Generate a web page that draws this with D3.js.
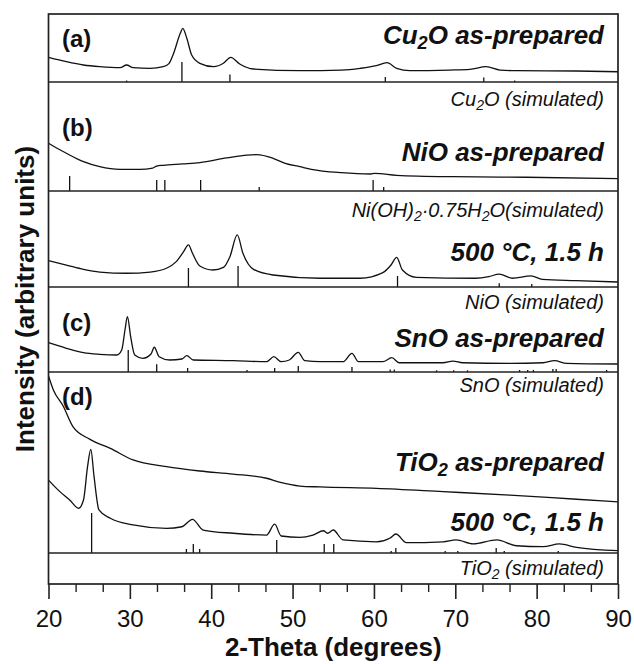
<!DOCTYPE html>
<html>
<head>
<meta charset="utf-8">
<script src="https://cdn.jsdelivr.net/npm/d3@7"></script>
<style>
  body { margin: 0; background: #fff; }
  svg { display: block; }
  text { font-family: "Liberation Sans", Arial, Helvetica, sans-serif; fill: #111; }
  .frame { fill: none; stroke: #222; stroke-width: 1.7; }
  .divider { stroke: #222; stroke-width: 1.4; }
  .curve { fill: none; stroke: #111; stroke-width: 1.3; }
  .stick { stroke: #111; stroke-width: 1.3; }
  .panel-tag { font-weight: bold; font-size: 24px; }
  .sample { font-weight: bold; font-style: italic; font-size: 26px; }
  .sim { font-style: italic; font-size: 20px; }
</style>
</head>
<body>
<svg width="634" height="664"></svg>
<script>
// 2-theta (deg) vs intensity, in % of each panel's height
var cu2oPrepared = [[20.0,36.3],[22.2,29.9],[24.3,25.0],[26.3,22.5],[28.8,21.0],[29.6,25.0],[30.4,21.0],[32.5,20.1],[34.1,22.5],[34.8,27.0],[35.3,39.7],[36.2,71.6],[36.5,79.0],[37.0,64.3],[37.6,39.7],[38.6,27.5],[40.3,22.5],[41.5,27.5],[42.4,36.3],[43.5,26.5],[45.2,19.1],[50.9,16.6],[56.0,17.6],[58.3,20.1],[60.3,24.0],[61.6,28.4],[62.8,20.1],[64.4,16.6],[69.3,17.6],[71.8,18.7],[73.8,22.5],[75.5,17.6],[77.5,16.6],[84.9,16.2],[90.0,15.1]];
var cu2oSticks = [[29.6,2.2],[36.4,29.4],[42.3,10.9],[61.4,7.4],[73.5,6.5],[77.3,2.2]];

var nioPrepared = [[20.0,43.8],[21.0,39.4],[22.2,34.6],[24.3,26.9],[26.3,22.3],[28.8,19.9],[31.2,19.9],[32.8,21.0],[33.3,22.9],[34.1,23.6],[36.5,24.8],[38.6,26.0],[41.9,30.3],[44.4,33.0],[45.6,33.3],[47.6,30.0],[49.1,25.4],[50.9,22.3],[52.3,19.9],[56.0,16.8],[59.6,15.6],[60.1,16.2],[62.8,14.4],[69.6,13.1],[78.7,12.6],[90.0,11.3]];
var niHydroxideSticks = [[22.6,13.8],[33.3,10.1],[34.3,10.1],[38.7,10.1],[45.9,3.7],[59.9,10.1],[61.2,3.7]];

var nio500 = [[20.0,27.4],[22.2,22.9],[24.3,18.4],[26.3,15.6],[29.6,14.3],[32.5,15.6],[34.5,19.5],[35.7,26.4],[36.6,36.8],[37.2,43.8],[37.7,35.1],[38.6,21.9],[40.2,17.7],[41.5,20.5],[42.3,31.6],[43.2,54.2],[43.9,35.1],[45.2,18.4],[47.6,12.5],[53.4,9.1],[58.3,9.1],[61.1,14.9],[62.1,22.9],[62.8,30.9],[63.5,17.7],[65.2,10.1],[72.5,9.1],[74.1,10.7],[75.4,13.5],[77.0,9.1],[79.3,11.5],[80.7,8.0],[84.8,6.6],[90.0,5.2]];
var nioSticks = [[37.2,19.8],[43.3,21.9],[62.9,11.5],[75.4,3.9],[79.4,3.1]];

var snoPrepared = [[20.0,34.5],[22.2,27.9],[24.3,22.7],[26.3,20.8],[28.4,20.0],[29.0,25.9],[29.4,49.4],[29.7,65.1],[30.1,41.5],[30.6,20.0],[31.6,16.1],[32.6,21.2],[33.0,29.1],[33.6,18.0],[34.9,14.1],[36.4,15.3],[37.0,19.2],[37.8,14.1],[42.7,13.3],[46.8,12.1],[47.7,18.0],[48.6,12.1],[49.6,14.1],[50.7,23.2],[51.5,13.3],[53.4,12.1],[56.2,12.1],[57.3,22.0],[58.1,12.1],[61.1,12.1],[62.2,16.8],[63.1,10.9],[68.5,10.9],[69.7,12.9],[70.9,10.9],[76.7,10.2],[80.8,10.9],[82.2,13.3],[83.7,10.2],[90.0,9.4]];
var snoSticks = [[29.8,25.9],[33.3,9.1],[37.1,4.7],[44.4,2.4],[47.8,4.7],[50.7,7.1],[57.3,5.9],[62.0,3.0],[62.5,3.0],[67.7,2.0],[69.8,2.0],[71.5,2.0],[77.9,2.4],[78.9,2.4],[79.6,2.4],[82.0,3.5],[82.4,3.5],[88.6,2.4]];

var tio2Prepared = [[20.0,97.8],[20.6,90.1],[21.8,81.2],[23.0,69.8],[25.1,62.8],[27.6,57.8],[30.4,51.4],[34.5,47.7],[38.6,45.3],[42.7,43.6],[46.8,41.3],[48.5,39.0],[50.9,37.0],[53.4,36.5],[60.3,35.7],[68.5,33.9],[76.7,32.0],[84.9,29.7],[90.0,28.3]];
var tio2Annealed = [[20.0,40.3],[21.4,33.9],[22.6,29.3],[23.7,24.7],[24.3,29.3],[24.8,47.7],[25.2,57.3],[25.6,42.2],[26.2,23.8],[27.6,19.2],[30.4,15.5],[34.5,13.6],[36.4,14.5],[37.7,18.6],[39.0,12.7],[42.7,10.9],[46.8,9.9],[47.8,15.9],[48.6,9.4],[50.9,8.6],[52.5,9.9],[53.8,12.3],[54.3,10.9],[55.0,12.7],[56.2,7.2],[60.3,6.2],[62.0,8.3],[62.7,10.5],[64.0,5.7],[68.5,6.2],[70.1,7.2],[72.2,5.0],[75.1,7.2],[77.5,4.0],[80.8,3.5],[82.8,5.0],[84.9,3.1],[90.0,1.3]];
var tio2Sticks = [[25.3,22.1],[36.95,2.2],[37.8,5.0],[38.58,2.2],[48.05,7.2],[53.89,5.0],[55.06,5.0],[62.12,1.1],[62.69,2.8],[68.76,1.1],[70.31,1.1],[75.03,2.8],[76.02,1.1],[82.66,1.1]];

var majorTicks = [20, 30, 40, 50, 60, 70, 80, 90];

var svg = d3.select("svg"),
    plotL = 48.5, plotR = 618, plotT = 14, plotB = 584;

var x = d3.scaleLinear().domain([20, 90]).range([plotL, plotR]);

// stacked panels: baseline line and top edge of each
var panels = [
    {top: 14,  base: 82,  curves: [cu2oPrepared], sticks: cu2oSticks},
    {top: 82,  base: 191, curves: [nioPrepared], sticks: niHydroxideSticks},
    {top: 191, base: 287, curves: [nio500], sticks: nioSticks},
    {top: 287, base: 372, curves: [snoPrepared], sticks: snoSticks},
    {top: 372, base: 553, curves: [tio2Prepared, tio2Annealed], sticks: tio2Sticks}
];

panels.forEach(function(p) {
    var y = d3.scaleLinear().domain([0, 100]).range([p.base, p.top]);
    var line = d3.line()
        .x(function(d) { return x(d[0]); })
        .y(function(d) { return y(d[1]); })
        .curve(d3.curveMonotoneX);
    p.curves.forEach(function(c) {
        svg.append("path").attr("class", "curve").attr("d", line(c));
    });
    svg.append("g").selectAll("line")
        .data(p.sticks)
        .join("line")
        .attr("class", "stick")
        .attr("x1", function(d) { return x(d[0]); })
        .attr("x2", function(d) { return x(d[0]); })
        .attr("y1", y(0))
        .attr("y2", function(d) { return y(d[1]); });
    svg.append("line").attr("class", "divider")
        .attr("x1", plotL).attr("x2", plotR)
        .attr("y1", p.base).attr("y2", p.base);
});

svg.append("rect").attr("class", "frame")
    .attr("x", plotL).attr("y", plotT)
    .attr("width", plotR - plotL).attr("height", plotB - plotT);

// x axis, major + minor ticks pointing out
var axisG = svg.append("g").attr("transform", "translate(0," + plotB + ")")
    .call(d3.axisBottom(x).tickValues(majorTicks).tickSize(15).tickPadding(11).tickFormat(d3.format("d")));
axisG.select(".domain").remove();
axisG.attr("font-size", 24).attr("font-family", null);
axisG.selectAll("line").attr("stroke", "#222").attr("stroke-width", 1.6);
axisG.selectAll("text").attr("fill", "#111");

var minor = d3.range(0, 22).map(function(i) { return 20 + i * 10 / 3; })
    .filter(function(v) { return Math.abs(v / 10 - Math.round(v / 10)) > 0.01; });
var minorG = svg.append("g").attr("transform", "translate(0," + plotB + ")")
    .call(d3.axisBottom(x).tickValues(minor).tickSize(8).tickFormat(""));
minorG.select(".domain").remove();
minorG.selectAll("line").attr("stroke", "#222").attr("stroke-width", 1.4);

svg.append("text")
    .attr("x", (plotL + plotR) / 2).attr("y", 656)
    .attr("text-anchor", "middle")
    .style("font-weight", "bold").style("font-size", "26px")
    .text("2-Theta (degrees)");

svg.append("text")
    .attr("transform", "translate(34," + (plotT + plotB) / 2 + ") rotate(-90)")
    .attr("text-anchor", "middle")
    .style("font-weight", "bold").style("font-size", "26px")
    .text("Intensity (arbitrary units)");

// labels; "_" marks a subscript piece
function label(xPos, yPos, parts, cls, anchor) {
    var t = svg.append("text").attr("class", cls)
        .attr("x", xPos).attr("y", yPos)
        .attr("text-anchor", anchor || "end");
    var shifted = false;
    parts.forEach(function(s) {
        var span = t.append("tspan");
        if (s[0] === "_") {
            span.attr("dy", "0.3em").style("font-size", "70%").text(s.slice(1));
            shifted = true;
        } else {
            if (shifted) { span.attr("dy", "-0.21em"); shifted = false; }
            span.text(s);
        }
    });
}

var tx = 62, rx = 604;
label(tx, 47, ["(a)"], "panel-tag", "start");
label(tx, 136, ["(b)"], "panel-tag", "start");
label(tx, 331, ["(c)"], "panel-tag", "start");
label(tx, 405, ["(d)"], "panel-tag", "start");

label(rx, 44, ["Cu", "_2", "O as-prepared"], "sample");
label(rx, 106, ["Cu", "_2", "O (simulated)"], "sim");
label(rx, 161, ["NiO as-prepared"], "sample");
label(rx, 217, ["Ni(OH)", "_2", "·0.75H", "_2", "O(simulated)"], "sim");
label(rx, 261, ["500 °C, 1.5 h"], "sample");
label(rx, 309, ["NiO (simulated)"], "sim");
label(rx, 347, ["SnO as-prepared"], "sample");
label(rx, 392, ["SnO (simulated)"], "sim");
label(rx, 471, ["TiO", "_2", " as-prepared"], "sample");
label(rx, 531, ["500 °C, 1.5 h"], "sample");
label(rx, 575, ["TiO", "_2", " (simulated)"], "sim");
</script>
</body>
</html>
